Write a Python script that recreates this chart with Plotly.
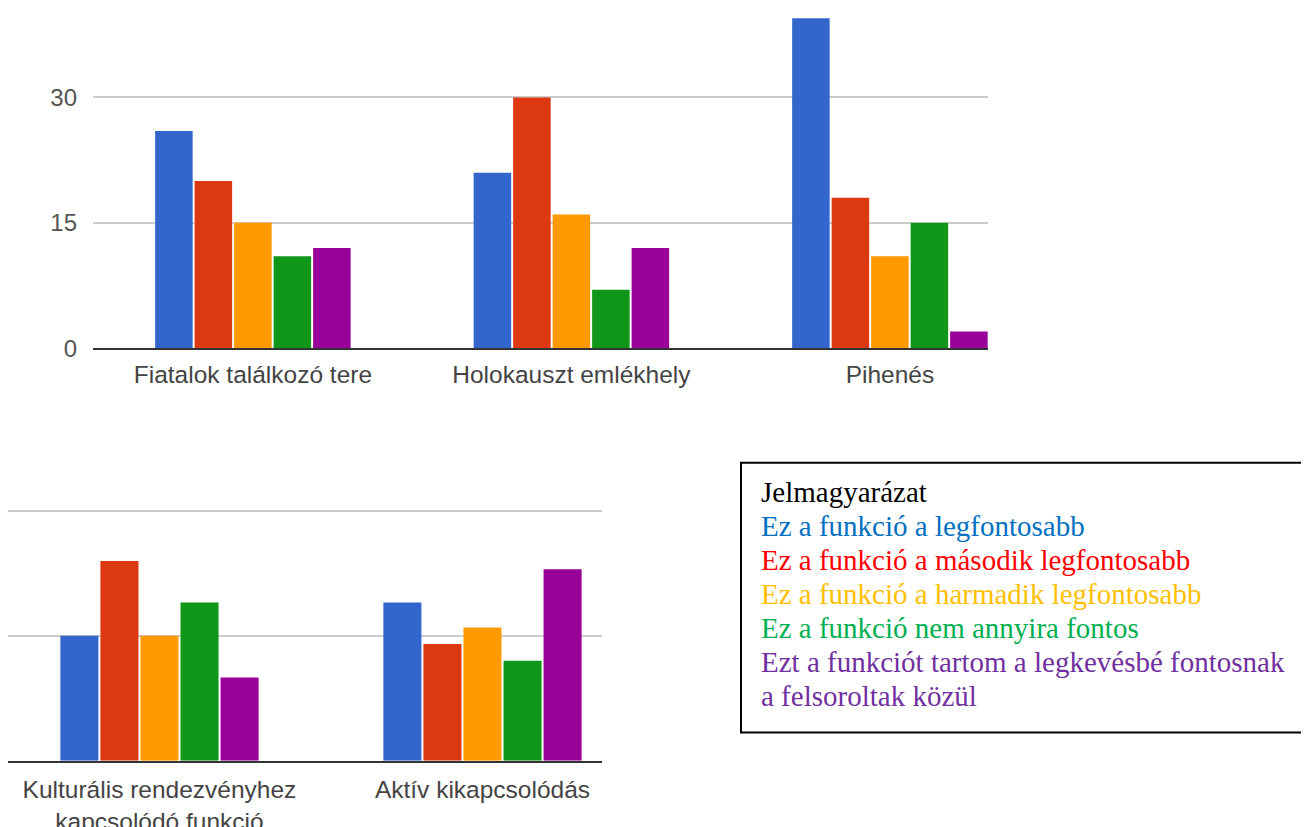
import plotly.graph_objects as go

# ---- data ----
top_categories = ["Fiatalok találkozó tere", "Holokauszt emlékhely", "Pihenés"]
bottom_categories = ["Kulturális rendezvényhez<br>kapcsolódó funkció", "Aktív kikapcsolódás"]

series_names = [
    "Ez a funkció a legfontosabb",
    "Ez a funkció a második legfontosabb",
    "Ez a funkció a harmadik legfontosabb",
    "Ez a funkció nem annyira fontos",
    "Ezt a funkciót tartom a legkevésbé fontosnak<br>a felsoroltak közül",
]
bar_colors = ["#3366cc", "#dc3912", "#ff9900", "#109618", "#990099"]
legend_colors = ["#0070c0", "#ff0000", "#ffc000", "#00b050", "#7030a0"]
legend_title = "Jelmagyarázat"

# values per series (one list per series, one value per category)
top_values = [
    [26, 21, 40],
    [20, 30, 18],
    [15, 16, 11],
    [11, 7, 15],
    [12, 12, 2],
]
bottom_values = [
    [15, 19],
    [24, 14],
    [15, 16],
    [19, 12],
    [10, 23],
]
y_tick_values = [0, 15, 30]
y_tick_labels = ["0", "15", "30"]

# ---- figure ----
W, H = 1301, 827
OFF = 8            # page body margin
SY = 827 / 843     # vertical capture factor

def px_x(p):
    return (p - OFF) / W

def px_y(p):
    return 1 - (p / SY - OFF) / H

fig = go.Figure()

for name, color, tv, bv in zip(series_names, bar_colors, top_values, bottom_values):
    fig.add_trace(go.Bar(x=top_categories, y=tv, name=name, marker_color=color,
                         marker_line_width=0, xaxis="x", yaxis="y", showlegend=False))
    fig.add_trace(go.Bar(x=bottom_categories, y=bv, name=name, marker_color=color,
                         marker_line_width=0, xaxis="x2", yaxis="y2", showlegend=False))

label_font = dict(family="Liberation Sans, Arial, sans-serif", size=24.5, color="#444444")
tick_font = dict(family="Liberation Sans, Arial, sans-serif", size=24, color="#555555")

fig.update_layout(
    width=W, height=H, autosize=False,
    margin=dict(l=0, r=0, t=0, b=0, pad=0),
    paper_bgcolor="white", plot_bgcolor="white",
    barmode="group", bargap=0.38, bargroupgap=0.05,
    xaxis=dict(domain=[px_x(93), px_x(988)], range=[-0.502, 2.308],
               showline=True, linecolor="#333333", linewidth=2,
               showgrid=False, zeroline=False, ticks="",
               tickfont=label_font, ticklabelstandoff=3, fixedrange=True),
    yaxis=dict(domain=[px_y(347), px_y(18)], range=[0, 39.48],
               tickvals=y_tick_values, ticktext=y_tick_labels,
               showgrid=True, gridcolor="#cccccc", gridwidth=1.5,
               zeroline=False, showline=False, ticks="",
               tickfont=tick_font, ticklabelstandoff=15, fixedrange=True),
    xaxis2=dict(domain=[px_x(8), px_x(602)], range=[-0.469, 1.37],
                showline=True, linecolor="#333333", linewidth=2,
                showgrid=False, zeroline=False, ticks="", anchor="y2",
                tickfont=label_font, ticklabelstandoff=6, fixedrange=True),
    yaxis2=dict(domain=[px_y(758), px_y(500)], range=[0, 31.1], anchor="x2",
                tickvals=y_tick_values, showticklabels=False,
                showgrid=True, gridcolor="#cccccc", gridwidth=1.5,
                zeroline=False, showline=False, ticks="", fixedrange=True),
)

# legend box
fig.add_shape(type="rect", xref="paper", yref="paper",
              x0=px_x(741), x1=px_x(1307), y0=px_y(730), y1=px_y(461),
              line=dict(color="black", width=2), fillcolor="rgba(0,0,0,0)")

legend_texts = [legend_title]
legend_text_colors = ["black"]
for n, c in zip(series_names, legend_colors):
    for part in n.split("<br>"):
        legend_texts.append(part)
        legend_text_colors.append(c)

line_centers = [490, 524, 558, 592, 626, 660, 694]
serif = "Liberation Serif, Times New Roman, serif"
for t, c, yc in zip(legend_texts, legend_text_colors, line_centers):
    fig.add_annotation(xref="paper", yref="paper", x=px_x(759), y=px_y(yc),
                       xanchor="left", yanchor="middle", align="left", showarrow=False,
                       text=t, font=dict(family=serif, size=29, color=c))

fig.write_html("out.html")
